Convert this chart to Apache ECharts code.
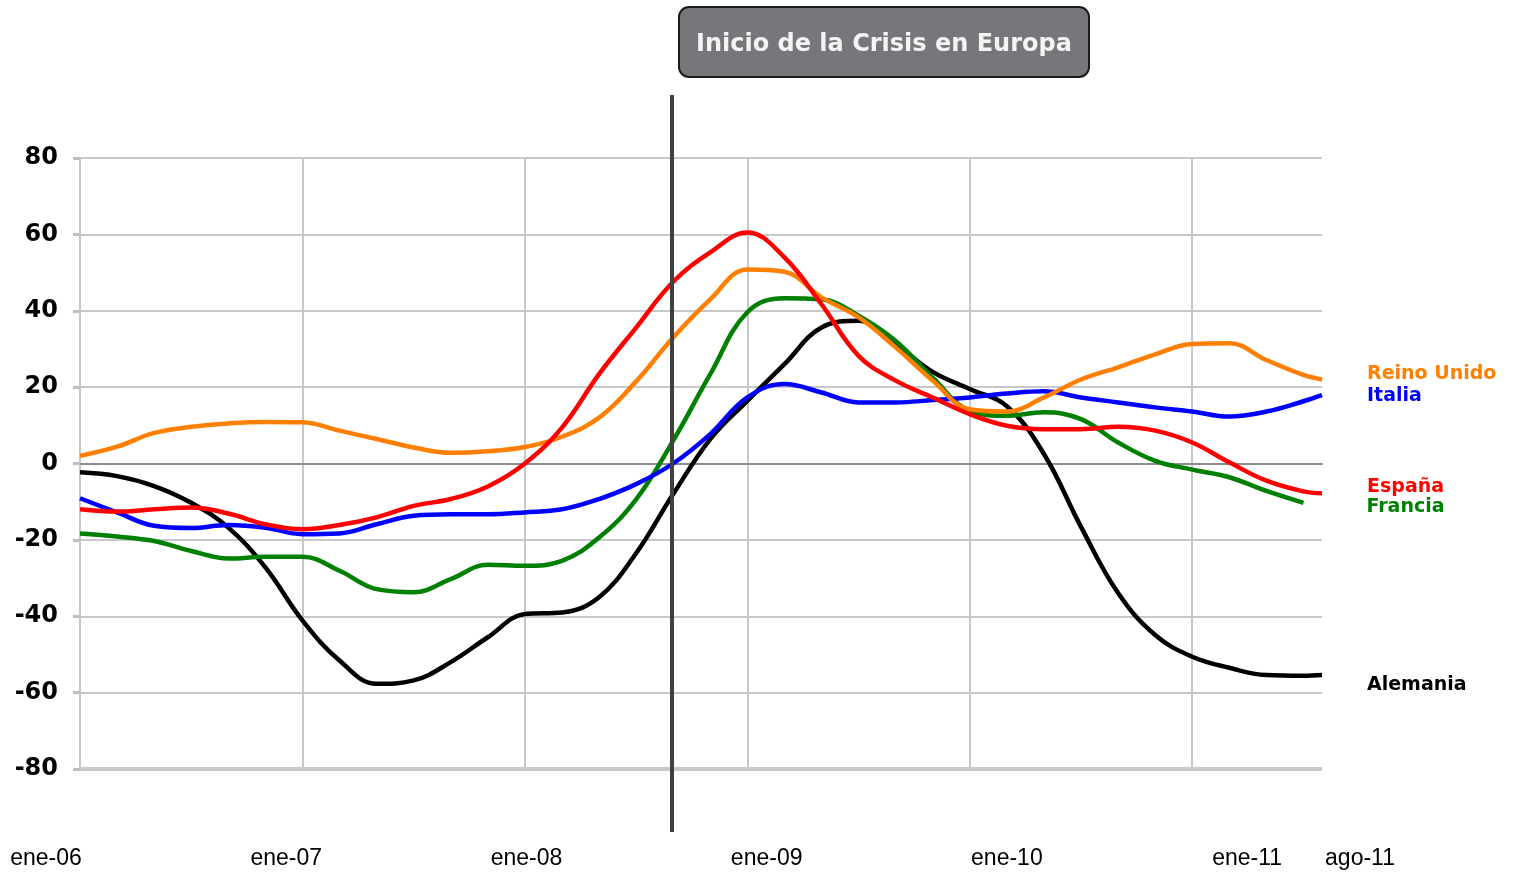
<!DOCTYPE html>
<html>
<head>
<meta charset="utf-8">
<script src="https://cdn.jsdelivr.net/npm/echarts@6/dist/echarts.min.js"></script>
<style>
  html, body { margin: 0; padding: 0; background: #fff; }
  #grafico { width: 1515px; height: 873px; }
</style>
</head>
<body>
<div id="grafico"></div>
<script>
// meses contados desde ene-06 (0 = ene-06, 67 = ago-11)
var meses = [0, 2, 4, 6, 8, 10, 12, 14, 16, 18, 20, 22, 24, 26, 28, 30, 32, 34,
             36, 38, 40, 42, 44, 46, 48, 50, 52, 54, 56, 58, 60, 62, 64, 66, 67];

var reinoUnido = [2, 4.4, 8, 9.6, 10.5, 10.9, 10.8, 8.6, 6.4, 4.2, 2.8, 3.2, 4.3, 7, 12, 21.5, 33,
                  43, 50.8, 50.2, 43.5, 38.3, 30.4, 21.7, 14.2, 13.6, 17.3, 22, 25.2, 28.6, 31.3, 31.5, 27.1, 23.2, 22];
var italia = [-9.1, -12.8, -16.3, -16.9, -16.1, -16.8, -18.5, -18.3, -15.9, -13.7, -13.3, -13.3, -12.8, -12, -9.3, -5.4, 0,
              7.7, 17.3, 20.8, 18.6, 16, 16, 16.6, 17.3, 18.3, 18.9, 17.3, 16, 14.7, 13.6, 12.3, 13.6, 16.3, 17.9];
var espana = [-12, -12.6, -12, -11.5, -13.1, -15.9, -17.2, -16.1, -14.1, -11.1, -9.3, -6, 0, 9.4, 23.4, 35.6, 47.6,
              55.3, 60.5, 54, 41.7, 28.2, 21.7, 17.3, 12.9, 9.9, 9, 9, 9.6, 8.6, 5.5, 0.3, -4.5, -7.3, -7.8];
var francia = [-18.3, -19.1, -20.3, -22.9, -24.9, -24.4, -24.4, -28.1, -32.9, -33.7, -30.3, -26.5, -26.8, -25.5, -19.4, -9.4, 6,
               23.4, 39.6, 43.3, 43, 38.7, 32.1, 22.5, 13.8, 12.5, 13.4, 11.6, 5.5, 0.7, -1.6, -3.6, -7.2, -10.3];
var alemania = [-2.3, -3.3, -5.9, -10.3, -16.8, -27.2, -41.1, -51.6, -57.7, -56.8, -52, -45.5, -39.4, -39, -35, -23.5, -8,
                6.4, 16.4, 26, 35.6, 37.4, 31.3, 24, 19.5, 15, 2.5, -16.6, -33.9, -44.9, -50.6, -53.5, -55.4, -55.6, -55.4];

var etiquetasX = ['ene-06', 'ene-07', 'ene-08', 'ene-09', 'ene-10', 'ene-11', 'ago-11'];
var ticksY = [-80, -60, -40, -20, 0, 20, 40, 60, 80];

// mes del inicio de la crisis (ago/sep-08)
var inicioCrisis = 31.9;

function puntos(valores) {
    var res = [];
    for (var i = 0; i < valores.length; i++) {
        res.push([meses[i], valores[i]]);
    }
    return res;
}

var grafico = echarts.init(document.getElementById('grafico'));

function serie(nombre, valores, color, dist, dy) {
    return {
        name: nombre,
        type: 'line',
        xAxisIndex: 0,
        yAxisIndex: 0,
        data: puntos(valores),
        smooth: 0.4,
        symbol: 'none',
        lineStyle: { color: color, width: 4.5 },
        endLabel: {
            show: true,
            formatter: nombre,
            color: color,
            fontFamily: 'DejaVu Sans',
            fontWeight: 'bold',
            fontSize: 19,
            distance: dist,
            offset: [0, dy]
        },
        emphasis: { disabled: true },
        z: 3
    };
}

var option = {
    animation: false,
    backgroundColor: '#ffffff',
    title: {
        text: 'Inicio de la Crisis en Europa',
        left: 679,
        top: 7,
        padding: [23, 17, 17, 17],
        backgroundColor: '#77777b',
        borderColor: '#1a1a1a',
        borderWidth: 2,
        borderRadius: 10,
        textStyle: {
            color: '#f4f4f4',
            fontFamily: 'DejaVu Sans',
            fontWeight: 'bold',
            fontSize: 24,
            lineHeight: 30
        }
    },
    grid: [
        { left: 80, top: 158, width: 1242, height: 611 },
        { left: 46, top: 840, width: 1314, height: 2 },
        { left: 80, top: 95, width: 1242, height: 737 }
    ],
    xAxis: [
        {
            type: 'value', gridIndex: 0, min: 0, max: 67, interval: 12,
            axisLine: { show: true, onZero: true, lineStyle: { color: '#8c8c8c', width: 2 } },
            axisTick: { show: false },
            axisLabel: { show: false },
            splitLine: { show: true, showMaxLine: false, lineStyle: { color: '#c8c8c8', width: 2 } }
        },
        {
            // etiquetas del eje x, repartidas como en el original
            type: 'value', gridIndex: 1, min: 0, max: 5.47,
            axisLine: { show: false },
            axisTick: { show: false },
            splitLine: { show: false },
            axisLabel: {
                show: true,
                customValues: [0, 1, 2, 3, 4, 5, 5.47],
                formatter: function (v) {
                    var i = v > 5 ? 6 : Math.round(v);
                    return etiquetasX[i];
                },
                margin: 5,
                verticalAlign: 'top',
                color: '#000',
                fontFamily: 'Liberation Sans',
                fontSize: 23,
                showMinLabel: true,
                showMaxLabel: true
            }
        },
        {
            type: 'value', gridIndex: 2, min: 0, max: 67, show: false
        }
    ],
    yAxis: [
        {
            type: 'value', gridIndex: 0, min: ticksY[0], max: ticksY[ticksY.length - 1], interval: 20,
            axisLine: { show: false },
            axisTick: { show: true, length: 7, lineStyle: { color: '#c0c0c0', width: 3 } },
            axisLabel: {
                margin: 22,
                color: '#000',
                fontFamily: 'DejaVu Sans',
                fontWeight: 'bold',
                fontSize: 24,
                verticalAlign: 'middle',
                lineHeight: 20
            },
            splitLine: { show: true, lineStyle: { color: '#c8c8c8', width: 2 } }
        },
        { type: 'value', gridIndex: 1, show: false, min: 0, max: 1 },
        { type: 'value', gridIndex: 2, show: false, min: 0, max: 1 }
    ],
    series: [
        {
            // linea base inferior mas gruesa
            type: 'line', xAxisIndex: 0, yAxisIndex: 0, data: [],
            silent: true,
            markLine: {
                silent: true, symbol: 'none', label: { show: false },
                lineStyle: { color: '#c8c8c8', width: 4, type: 'solid' },
                data: [{ yAxis: ticksY[0] }]
            },
            z: 1
        },
        serie('Alemania', alemania, '#000000', 45, 10),
        serie('Francia', francia, '#008000', 63, 4),
        serie('Italia', italia, '#0000ff', 45, 1),
        serie('Reino Unido', reinoUnido, '#ff7f00', 45, -5),
        serie('España', espana, '#ff0000', 45, -6),
        {
            // linea vertical: inicio de la crisis
            type: 'line', xAxisIndex: 2, yAxisIndex: 2, data: [],
            silent: true,
            markLine: {
                silent: true, symbol: 'none', label: { show: false },
                lineStyle: { color: '#404040', width: 4, type: 'solid' },
                data: [{ xAxis: inicioCrisis }]
            },
            z: 5
        }
    ]
};

grafico.setOption(option);
</script>
</body>
</html>
